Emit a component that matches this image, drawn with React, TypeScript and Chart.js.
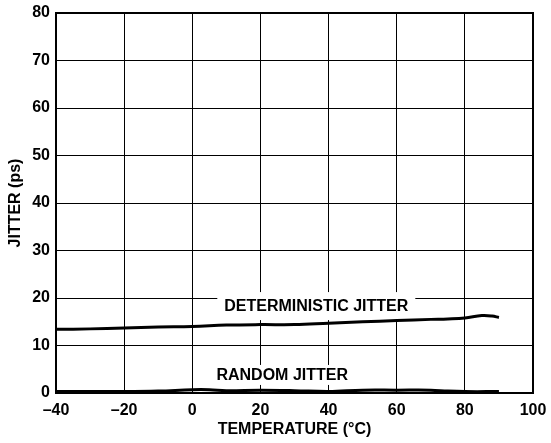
import React, { useEffect, useRef } from "react";
import { Chart, registerables } from "chart.js";

Chart.register(...registerables);

const detTemps = [-40, -30, -20, -10, 0, 10, 20, 30, 40, 50, 60, 70, 75, 80, 85, 88, 90];
const detJitter = [13.4, 13.5, 13.7, 13.9, 14.0, 14.3, 14.4, 14.4, 14.7, 15.0, 15.25, 15.5, 15.6, 15.8, 16.3, 16.2, 15.9];
const rndTemps = [-40, -20, -10, 0, 5, 10, 20, 30, 40, 50, 60, 70, 75, 80, 90];
const rndJitter = [0.3, 0.3, 0.4, 0.7, 0.7, 0.5, 0.6, 0.5, 0.3, 0.6, 0.6, 0.6, 0.4, 0.3, 0.3];
const labels = [
  { text: "DETERMINISTIC JITTER", x: 36.4, y: 18.3, w: 198, h: 28 },
  { text: "RANDOM JITTER", x: 26.4, y: 3.8, w: 146, h: 20 },
];

const FONT = "'Liberation Sans', Arial, sans-serif";

export default function App() {
  const ref = useRef<HTMLCanvasElement>(null);
  useEffect(() => {
    const labelPlugin = {
      id: "labels",
      beforeDatasetsDraw(chart: any) {
        const ctx = chart.ctx;
        const xs = chart.scales.x;
        const ys = chart.scales.y;
        ctx.save();
        labels.forEach((l) => {
          const px = xs.getPixelForValue(l.x);
          const py = ys.getPixelForValue(l.y);
          ctx.fillStyle = "#fff";
          ctx.fillRect(px - l.w / 2, py - l.h / 2, l.w, l.h);
          ctx.fillStyle = "#000";
          ctx.font = `bold 16px ${FONT}`;
          ctx.textAlign = "center";
          ctx.textBaseline = "middle";
          ctx.fillText(l.text, px, py + 1);
        });
        ctx.restore();
      },
      afterDraw(chart: any) {
        const { left, top, right, bottom } = chart.chartArea;
        const ctx = chart.ctx;
        ctx.save();
        ctx.strokeStyle = "#000";
        ctx.lineWidth = 2;
        ctx.strokeRect(left, top, right - left, bottom - top);
        ctx.restore();
      },
    };
    const chart = new Chart(ref.current!, {
      type: "line",
      data: {
        datasets: [
          {
            data: detTemps.map((t, i) => ({ x: t, y: detJitter[i] })),
            borderColor: "#000",
            borderWidth: 3,
            pointRadius: 0,
            tension: 0.4,
            clip: false as any,
          },
          {
            data: rndTemps.map((t, i) => ({ x: t, y: rndJitter[i] })),
            borderColor: "#000",
            borderWidth: 3,
            pointRadius: 0,
            tension: 0.4,
            clip: false as any,
          },
        ],
      },
      options: {
        animation: false,
        responsive: false,
        layout: { padding: { top: 13, right: 18, left: 4, bottom: 4 } },
        plugins: { legend: { display: false }, tooltip: { enabled: false } },
        scales: {
          x: {
            type: "linear",
            min: -40,
            max: 100,
            ticks: {
              stepSize: 20,
              color: "#000",
              font: { family: FONT, size: 16, weight: "bold" },
              padding: 8,
              callback: (v: any) => String(v).replace("-", "\u2013"),
            },
            grid: { color: "#000", lineWidth: 1, drawTicks: false },
            border: { color: "#000", width: 2 },
            title: {
              display: true,
              text: "TEMPERATURE (°C)",
              color: "#000",
              font: { family: FONT, size: 16, weight: "bold" },
              padding: { top: 0, bottom: 0 },
            },
            afterFit: (s: any) => {
              s.height = 46;
              s.paddingRight = 0;
              s.paddingLeft = 0;
            },
          },
          y: {
            min: 0,
            max: 80,
            ticks: {
              stepSize: 10,
              color: "#000",
              font: { family: FONT, size: 16, weight: "bold" },
              padding: 6,
            },
            grid: { color: "#000", lineWidth: 1, drawTicks: false },
            border: { color: "#000", width: 2 },
            title: {
              display: true,
              text: "JITTER (ps)",
              color: "#000",
              font: { family: FONT, size: 16, weight: "bold" },
              padding: { top: 2, bottom: 0 },
            },
            afterFit: (s: any) => {
              s.width = 52;
              s.paddingTop = 0;
              s.paddingBottom = 0;
            },
          },
        },
      },
      plugins: [labelPlugin],
    });
    return () => chart.destroy();
  }, []);
  return (
    <div style={{ position: "absolute", left: 0, top: 0, width: 551, height: 443, background: "#fff" }}>
      <canvas ref={ref} width={551} height={443} style={{ width: 551, height: 443 }} />
    </div>
  );
}
